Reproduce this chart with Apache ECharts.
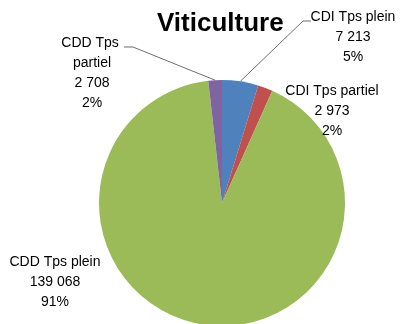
<!DOCTYPE html>
<html>
<head>
<meta charset="utf-8">
<script src="https://cdn.jsdelivr.net/npm/echarts@6/dist/echarts.min.js"></script>
<style>
  html, body { margin: 0; padding: 0; background: #fff; }
  #chart { width: 401px; height: 324px; }
</style>
</head>
<body>
<div id="chart"></div>
<script>
// Emploi salarié en viticulture, par type de contrat
const categories = ['CDI Tps plein', 'CDI Tps partiel', 'CDD Tps plein', 'CDD Tps partiel'];
const effectifs = [7213, 2973, 139068, 2708];
const parts = ['5%', '2%', '91%', '2%'];
const couleurs = ['#4F81BD', '#C0504D', '#9BBB59', '#8064A2'];

// Label anchor (centre x, top y) and whether a leader line is drawn, per category
const labelSpots = [
  { x: 353, y: 7, line: true, side: 'left' },
  { x: 332, y: 81, line: false },
  { x: 55, y: 252, line: false },
  { x: 92, y: 33, line: true, side: 'right' }
];

function fmt(n) {
  return String(n).replace(/\B(?=(\d{3})+(?!\d))/g, ' ');
}

const font = '"Liberation Sans", Arial, sans-serif';

const chart = echarts.init(document.getElementById('chart'), null, { renderer: 'canvas' });

chart.setOption({
  animation: false,
  title: {
    text: 'Viticulture',
    left: 152,
    top: 6,
    textStyle: { fontFamily: font, fontWeight: 'bold', fontSize: 26, color: '#000' }
  },
  series: [{
    type: 'pie',
    center: [222, 203],
    radius: 123,
    startAngle: 90,
    clockwise: true,
    avoidLabelOverlap: false,
    label: {
      show: true,
      position: 'outside',
      fontFamily: font,
      fontSize: 14,
      lineHeight: 20,
      color: '#000',
      align: 'center',
      formatter: function (p) {
        return p.name + '\n' + fmt(p.value) + '\n' + parts[p.dataIndex];
      }
    },
    labelLine: {
      show: true,
      lineStyle: { color: '#6f6f6f', width: 1 }
    },
    labelLayout: function (params) {
      const s = labelSpots[params.dataIndex];
      const out = { x: s.x, y: s.y, align: 'center', verticalAlign: 'top' };
      if (s.line && params.labelLinePoints) {
        const start = params.labelLinePoints[0];
        if (s.side === 'left') {
          out.labelLinePoints = [start, [303, 21], [311, 21]];
        } else {
          out.labelLinePoints = [start, [133, 47], [124, 47]];
        }
      }
      return out;
    },
    data: categories.map(function (name, i) {
      const item = {
        name: name,
        value: effectifs[i],
        itemStyle: { color: couleurs[i] }
      };
      if (!labelSpots[i].line) item.labelLine = { show: false };
      if (i === 3) item.label = { width: 70, overflow: 'break' };
      return item;
    })
  }]
});
</script>
</body>
</html>
